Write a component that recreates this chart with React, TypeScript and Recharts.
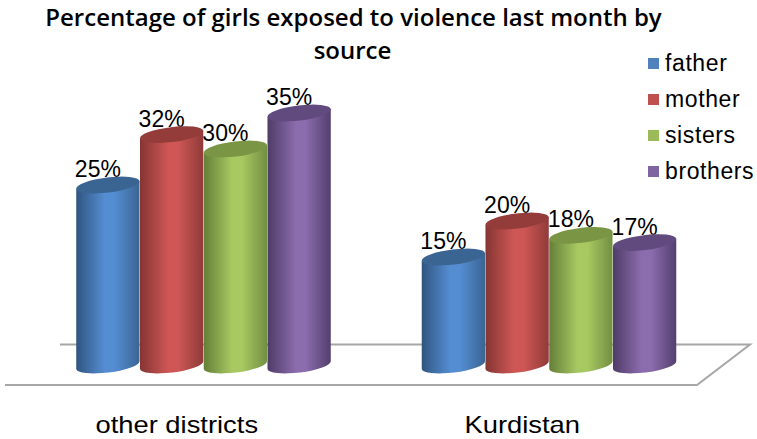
import React from "react";
import { BarChart, Bar, XAxis, YAxis, Legend, Customized } from "recharts";

const categories = ["other districts", "Kurdistan"];
const father = [25, 15];
const mother = [32, 20];
const sisters = [30, 18];
const brothers = [35, 17];
const seriesNames = ["father", "mother", "sisters", "brothers"];
const titleLines = ["Percentage of girls exposed to violence last month by", "source"];

const rows = categories.map((category, i) => ({
  category,
  father: father[i],
  mother: mother[i],
  sisters: sisters[i],
  brothers: brothers[i],
}));

const palette: Record<string, { main: string; edgeL: string; mid: string; edgeR: string; cap: string }> = {
  father: { main: "#4f81bd", edgeL: "#2f5580", mid: "#558dd2", edgeR: "#3a6594", cap: "#3a6592" },
  mother: { main: "#c0504d", edgeL: "#853533", mid: "#ce5755", edgeR: "#8f3b39", cap: "#943c3a" },
  sisters: { main: "#9bbb59", edgeL: "#647f38", mid: "#a8c962", edgeR: "#728f42", cap: "#7a9645" },
  brothers: { main: "#8064a2", edgeL: "#4f3c68", mid: "#8b6cad", edgeR: "#533f6e", cap: "#614a7e" },
};

const Cylinder = (props: any) => {
  const { x, y, width, height, dataKey } = props;
  const name = String(dataKey);
  const rx = width / 2;
  const ry = 7.5;
  const rot = -7;
  const dx = rx * Math.cos((rot * Math.PI) / 180);
  const dy = rx * Math.sin((rot * Math.PI) / 180);
  const cx = x + rx;
  const bottom = y + height;
  const d = `M${cx - dx},${y - dy} L${cx - dx},${bottom - dy} A${rx},${ry} ${rot} 0 0 ${cx + dx},${bottom + dy} L${cx + dx},${y + dy} Z`;
  return (
    <g>
      <path d={d} fill={`url(#grad-${name})`} />
      <ellipse cx={cx} cy={y} rx={rx} ry={ry} fill={palette[name].cap} transform={`rotate(${rot} ${cx} ${y})`} />
    </g>
  );
};

const ValueText = (props: any) => {
  const { x, y, width, value } = props;
  return (
    <text x={x + width / 2 - 10} y={y - 8} textAnchor="middle" fontFamily="Liberation Sans" fontSize={23} fill="#000">
      {`${value}%`}
    </text>
  );
};

const CategoryTick = (props: any) => {
  const { x, payload } = props;
  return (
    <g transform={`translate(${x - 27},433) scale(1.19,1)`}>
      <text x={0} y={0} textAnchor="middle" fontFamily="Liberation Sans" fontSize={23} fill="#000">
        {payload.value}
      </text>
    </g>
  );
};

const Floor = () => (
  <path d="M60,344.5 H750 L697,385 H5" fill="none" stroke="#a6a6a6" strokeWidth={2} />
);

const ChartTitle = () => (
  <g fontFamily="Open Sans" fontWeight={600} fontSize={24} fill="#000">
    <text x={353.5} y={26} textAnchor="middle">{titleLines[0]}</text>
    <text x={352.5} y={59} textAnchor="middle">{titleLines[1]}</text>
  </g>
);

const LegendBox = (props: any) => {
  const entries = seriesNames
    .map((name) => (props.payload || []).find((e: any) => e.value === name && e.type !== "none"))
    .filter(Boolean);
  return (
    <div style={{ fontFamily: "Liberation Sans", fontSize: 23, color: "#000" }}>
      {entries.map((entry: any) => (
        <div key={entry.value} style={{ display: "flex", alignItems: "center", height: 36 }}>
          <span style={{ width: 11, height: 11, background: palette[entry.value].main, marginRight: 6, flex: "none" }} />
          <span style={{ letterSpacing: 0.6, whiteSpace: "nowrap" }}>{entry.value}</span>
        </div>
      ))}
    </div>
  );
};

export default function App() {
  return (
    <div style={{ position: "absolute", left: 0, top: 0, width: 757, height: 439 }}>
      <BarChart
        width={757}
        height={439}
        data={rows}
        margin={{ top: 77, right: 35, bottom: 44, left: 31 }}
        barGap={0}
        barSize={63.75}
      >
        <defs>
          {seriesNames.map((name) => (
            <linearGradient key={name} id={`grad-${name}`} x1="0" y1="0" x2="1" y2="0">
              <stop offset="0%" stopColor={palette[name].edgeL} />
              <stop offset="45%" stopColor={palette[name].mid} />
              <stop offset="60%" stopColor={palette[name].mid} />
              <stop offset="100%" stopColor={palette[name].edgeR} />
            </linearGradient>
          ))}
        </defs>
        <Customized component={Floor} />
        <Customized component={ChartTitle} />
        <XAxis dataKey="category" axisLine={false} tickLine={false} tick={CategoryTick} interval={0} height={30} />
        <XAxis dataKey="category" xAxisId="labels" hide />
        <YAxis hide domain={[0, 40]} />
        {seriesNames.map((name) => (
          <Bar
            key={`label-${name}`}
            xAxisId="labels"
            dataKey={name}
            legendType="none"
            isAnimationActive={false}
            shape={ValueText}
          />
        ))}
        {seriesNames.map((name) => (
          <Bar key={name} dataKey={name} fill={palette[name].main} isAnimationActive={false} shape={Cylinder} />
        ))}
        <Legend
          layout="vertical"
          align="center"
          verticalAlign="middle"
          content={LegendBox}
          wrapperStyle={{ position: "absolute", left: 648, top: 45, width: 109, height: 144, bottom: "auto", right: "auto" }}
        />
      </BarChart>
    </div>
  );
}
